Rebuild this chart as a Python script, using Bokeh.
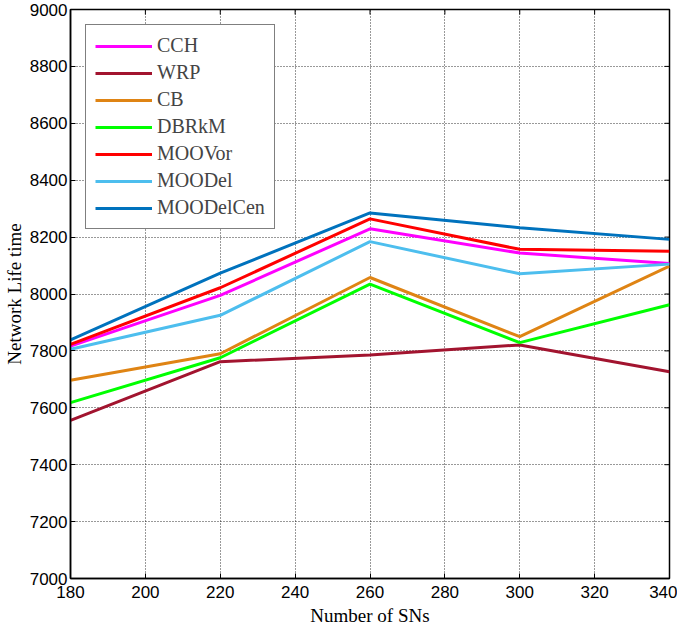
import math
from bokeh.plotting import figure
from bokeh.embed import file_html
from bokeh.resources import INLINE
from bokeh.models import Range1d, FixedTicker, Legend, LegendItem

sns = [180, 220, 260, 300, 340]
cch = [7817, 7995, 8229, 8144, 8107]
wrp = [7556, 7762, 7786, 7821, 7727]
cb = [7697, 7790, 8058, 7850, 8098]
dbrkm = [7618, 7776, 8035, 7829, 7962]
moovor = [7823, 8022, 8264, 8157, 8150]
moodel = [7806, 7925, 8184, 8071, 8105]
moodelcen = [7839, 8073, 8285, 8233, 8192]

names = ["CCH", "WRP", "CB", "DBRkM", "MOOVor", "MOODel", "MOODelCen"]
series = [cch, wrp, cb, dbrkm, moovor, moodel, moodelcen]
colors = ["#FF00FF", "#A2142F", "#DF8414", "#00FF00", "#FF0000", "#4DBEEE", "#0072BD"]

xticks = [180, 200, 220, 240, 260, 280, 300, 320, 340]
yticks = [7000, 7200, 7400, 7600, 7800, 8000, 8200, 8400, 8600, 8800, 9000]
xmin, xmax = 180, 340
ymin, ymax = 7000, 9000

p = figure(width=677, height=628, output_backend="svg", toolbar_location=None,
           x_range=Range1d(xmin, xmax), y_range=Range1d(ymin, ymax),
           x_axis_label="Number of SNs", y_axis_label="Network Life time",
           min_border_left=59, min_border_right=8, min_border_top=9, min_border_bottom=48)
p.background_fill_color = "white"
p.outline_line_color = "black"
p.outline_line_width = 1.5

for ax in (p.xaxis[0], p.yaxis[0]):
    ax.major_label_text_font = "Liberation Sans"
    ax.major_label_text_font_size = "17px"
    ax.major_label_text_color = "black"
    ax.axis_label_text_font = "Liberation Serif"
    ax.axis_label_text_font_size = "19px"
    ax.axis_label_text_font_style = "normal"
    ax.axis_label_text_color = "black"
    ax.major_tick_in = 5
    ax.major_tick_out = 0
    ax.minor_tick_line_color = None
    ax.axis_line_color = "black"
    ax.axis_line_width = 1.5
p.xaxis[0].ticker = FixedTicker(ticks=xticks)
p.yaxis[0].ticker = FixedTicker(ticks=yticks)
p.xaxis[0].axis_label_standoff = 4
p.yaxis[0].axis_label_standoff = 2
p.xaxis[0].major_label_standoff = 7
p.yaxis[0].major_label_standoff = 3

p.xgrid.ticker = FixedTicker(ticks=xticks)
p.ygrid.ticker = FixedTicker(ticks=yticks)
for g in (p.xgrid[0], p.ygrid[0]):
    g.grid_line_color = "black"
    g.grid_line_dash = "1 2"
    g.grid_line_width = 1
    g.grid_line_alpha = 0.8

# inward tick marks on the top and right edges (half of each dash is clipped by the frame)
p.scatter(xticks, [ymax] * len(xticks), marker="dash", size=10, angle=math.pi / 2,
          line_color="black", line_width=1)
p.scatter([xmax] * len(yticks), yticks, marker="dash", size=10,
          line_color="black", line_width=1)

items = []
for name, ys, c in zip(names, series, colors):
    r = p.line(sns, ys, line_color=c, line_width=3)
    items.append(LegendItem(label=name, renderers=[r]))

legend = Legend(items=items, location="top_left", margin=15, padding=9, spacing=4,
                glyph_width=57, glyph_height=20, label_height=20, label_standoff=5,
                label_text_font="Liberation Serif", label_text_font_size="20px",
                border_line_color="black", border_line_width=1.5,
                background_fill_alpha=1.0)
p.add_layout(legend)

open("out.html", "w").write(file_html(p, INLINE))
